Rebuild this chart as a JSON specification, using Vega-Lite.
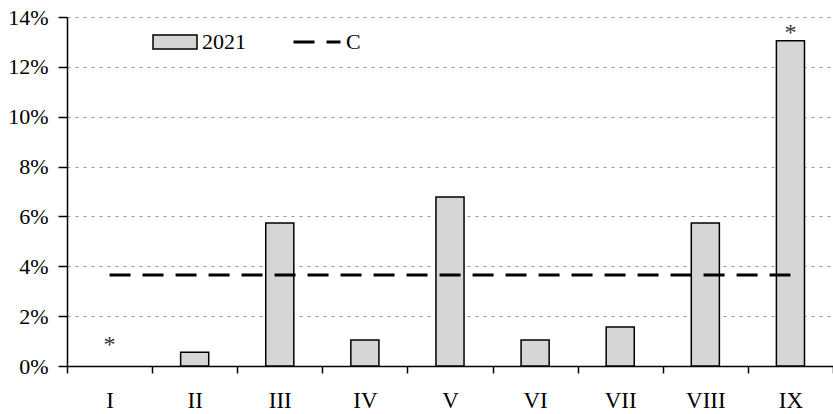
{
  "$schema": "https://vega.github.io/schema/vega-lite/v6.json",
  "width": 766,
  "height": 349,
  "autosize": {"type": "none"},
  "padding": {"left": 67, "top": 17, "right": 0, "bottom": 48},
  "background": "white",
  "config": {
    "view": {"stroke": null},
    "font": "Liberation Serif",
    "axis": {
      "labelFont": "Liberation Serif",
      "labelFontSize": 22,
      "labelColor": "black",
      "domainColor": "black",
      "domainWidth": 1.5,
      "tickColor": "black",
      "tickWidth": 1.5,
      "title": null
    },
    "legend": {
      "labelFont": "Liberation Serif",
      "labelFontSize": 22,
      "labelColor": "black",
      "padding": 0
    }
  },
  "data": {
    "values": [
      {"cat": "I", "value": null, "c": 3.65, "star": 1.08},
      {"cat": "II", "value": 0.55, "c": 3.65},
      {"cat": "III", "value": 5.74, "c": 3.65},
      {"cat": "IV", "value": 1.04, "c": 3.65},
      {"cat": "V", "value": 6.78, "c": 3.65},
      {"cat": "VI", "value": 1.04, "c": 3.65},
      {"cat": "VII", "value": 1.56, "c": 3.65},
      {"cat": "VIII", "value": 5.74, "c": 3.65},
      {"cat": "IX", "value": 13.05, "c": 3.65, "star": 13.6}
    ]
  },
  "layer": [
    {
      "mark": {"type": "bar", "width": {"band": 0.33}, "stroke": "black", "strokeWidth": 1.5},
      "encoding": {
        "x": {
          "field": "cat",
          "type": "nominal",
          "scale": {"domain": ["I", "II", "III", "IV", "V", "VI", "VII", "VIII", "IX"], "padding": 0},
          "axis": {"labelAngle": 0, "tickBand": "extent", "tickSize": 7, "labelPadding": 16, "labelFontSize": 23, "grid": false}
        },
        "y": {
          "field": "value",
          "type": "quantitative",
          "scale": {"domain": [0, 14], "nice": false},
          "axis": {
            "values": [0, 2, 4, 6, 8, 10, 12, 14],
            "labelExpr": "datum.value + '%'",
            "tickSize": 9,
            "labelPadding": 10,
            "grid": true,
            "gridDash": [3, 5],
            "gridColor": "#9a9a9a",
            "gridWidth": 1
          }
        },
        "fill": {
          "datum": "2021",
          "scale": {"range": ["#d6d6d6"]},
          "legend": {
            "orient": "none",
            "legendX": 85,
            "legendY": 2,
            "title": null,
            "symbolType": "M-1,-0.318H1V0.318H-1Z",
            "symbolSize": 1936,
            "symbolStrokeColor": "black",
            "symbolStrokeWidth": 1.5,
            "symbolOpacity": 1,
            "labelOffset": 4
          }
        }
      }
    },
    {
      "mark": {"type": "line", "color": "black", "strokeWidth": 3},
      "encoding": {
        "x": {"field": "cat", "type": "nominal"},
        "y": {"field": "c", "type": "quantitative"},
        "strokeDash": {
          "datum": "C",
          "scale": {"range": [[21, 12]]},
          "legend": {
            "orient": "none",
            "legendX": 225,
            "legendY": 0,
            "title": null,
            "symbolType": "stroke",
            "symbolSize": 2209,
            "symbolStrokeColor": "black",
            "symbolStrokeWidth": 3,
            "labelOffset": 4
          }
        }
      }
    },
    {
      "transform": [{"filter": "datum.star != null"}],
      "mark": {"type": "text", "text": "*", "fontSize": 24, "font": "Liberation Serif", "color": "#333333", "baseline": "alphabetic", "dy": 13},
      "encoding": {
        "x": {"field": "cat", "type": "nominal"},
        "y": {"field": "star", "type": "quantitative"}
      }
    }
  ]
}
